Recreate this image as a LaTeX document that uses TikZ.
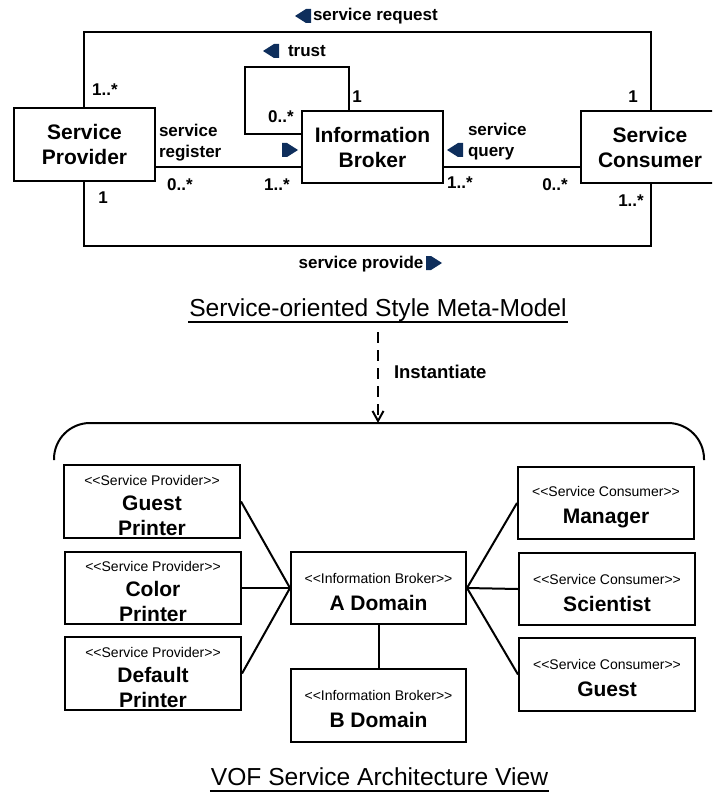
\documentclass[tikz,border=0pt]{standalone}
\usepackage{fontspec}
\setmainfont{Liberation Sans}
\usetikzlibrary{arrows.meta}
\definecolor{navy}{HTML}{0E2E5C}
\newcommand{\stereo}[1]{{\fontsize{14}{25}\mdseries\selectfont \rule{0pt}{18pt}<\kern0pt<#1>\kern0pt>}}
\tikzset{
  lmark/.pic={\fill[navy] (-8,0) -- (3,-7) -- (8,-7) -- (8,7) -- (3,7) -- cycle;},
  rmark/.pic={\fill[navy] (8,0) -- (-3,-7) -- (-8,-7) -- (-8,7) -- (-3,7) -- cycle;}
}
\begin{document}
\begin{tikzpicture}[x=1pt,y=-1pt,line width=2pt,
  box/.style={draw,line width=2pt,align=center,inner sep=0pt,
    font=\fontsize{21}{25}\selectfont\bfseries},
  lbl/.style={font=\fontsize{17}{21}\selectfont\bfseries,inner sep=0pt},
  ttl/.style={font=\fontsize{24.6}{28}\selectfont,inner sep=0pt}]
\useasboundingbox (0,0) rectangle (712,794);
\clip (0,0) rectangle (712,794);
% ---------- meta-model ----------
\node[box,minimum width=141pt,minimum height=73pt] (sp) at (84.5,144.5) {Service\\Provider};
\node[box,minimum width=141pt,minimum height=72pt] (ib) at (372.5,147) {Information\\Broker};
\node[box,minimum width=138pt,minimum height=72pt] (sc) at (650,147) {Service\\Consumer};

\draw (sp.east |- 0,167) -- (ib.west |- 0,167);
\draw (ib.east |- 0,167) -- (sc.west |- 0,167);
\draw (sp.north -| 84,0) -- (84,32) -- (651,32) -- (sc.north -| 651,0);
\draw (sp.south -| 84,0) -- (84,246) -- (651,246) -- (sc.south -| 651,0);
\draw (ib.north -| 349,0) -- (349,67) -- (245,67) -- (245,134) -- (ib.west |- 0,134);

\pic at (303,16) {lmark};
\pic at (271,51) {lmark};
\pic at (290,150) {rmark};
\pic at (455,150) {lmark};
\pic at (434,263) {rmark};

\node[lbl,anchor=west] (lreq) at (312,16) {service request};
\node[lbl,anchor=west] (ltrust) at (287,51) {trust};
\node[lbl,anchor=west,align=left] (lreg) at (158,142.5) {service\\register};
\node[lbl,anchor=west,align=left] (lqry) at (467,142) {service\\query};
\node[lbl] (lprov) at (361,264) {service provide};
\node[lbl] (m1) at (105,90) {1..*};
\node[lbl] (m2) at (357,97) {1};
\node[lbl] (m3) at (281,117) {0..*};
\node[lbl] (m4) at (180,185) {0..*};
\node[lbl] (m5) at (277,185) {1..*};
\node[lbl] (m6) at (103,198) {1};
\node[lbl] (m7) at (460,183) {1..*};
\node[lbl] (m8) at (555,185) {0..*};
\node[lbl] (m9) at (633,97) {1};
\node[lbl] (m10) at (631,201) {1..*};

% ---------- titles and instantiate ----------
\node[ttl,anchor=base] (t1) at (378,316) {Service-oriented Style Meta-Model};
\draw[line width=1.6pt] ([yshift=-6pt]t1.base west) -- ([yshift=-6pt]t1.base east);
\coordinate (brtop) at (378,423);
\draw[dash pattern=on 11pt off 7pt,-{Straight Barb[length=10pt,width=11pt]}] (t1.south |- 0,332) -- (brtop);
\node[lbl,font=\fontsize{18.5}{22}\selectfont\bfseries,anchor=west] (inst) at (393,372) {Instantiate};
\draw[rounded corners=36pt] (54,460) -- (54,423) -- (704,423) -- (704,460);

% ---------- architecture view ----------
\node[box,minimum width=176pt,minimum height=73pt] (gp) at (152,501.5) {\stereo{Service Provider}\\Guest\\Printer};
\node[box,minimum width=176pt,minimum height=72pt] (cp) at (153,588) {\stereo{Service Provider}\\Color\\Printer};
\node[box,minimum width=176pt,minimum height=73pt] (dp) at (153,673.5) {\stereo{Service Provider}\\Default\\Printer};
\node[box,minimum width=175pt,minimum height=72pt] (ad) at (378.5,588) {\stereo{Information Broker}\\[2pt]A Domain};
\node[box,minimum width=175pt,minimum height=73pt] (bd) at (378.5,705.5) {\stereo{Information Broker}\\[2pt]B Domain};
\node[box,minimum width=176pt,minimum height=72pt] (mg) at (606,503) {\stereo{Service Consumer}\\[2pt]Manager};
\node[box,minimum width=176pt,minimum height=72pt] (sci) at (607,589) {\stereo{Service Consumer}\\[2pt]Scientist};
\node[box,minimum width=176pt,minimum height=73pt] (gu) at (607,674.5) {\stereo{Service Consumer}\\[2pt]Guest};

\draw (gp.east) -- (ad.west);
\draw (cp.east) -- (ad.west);
\draw (dp.east) -- (ad.west);
\draw (mg.west) -- (ad.east);
\draw (sci.west) -- (ad.east);
\draw (gu.west) -- (ad.east);
\draw (ad.south) -- (bd.north);

\node[ttl,anchor=base] (t2) at (379.5,785) {VOF Service Architecture View};
\draw[line width=1.6pt] ([yshift=-6pt]t2.base west) -- ([yshift=-6pt]t2.base east);
\end{tikzpicture}
\end{document}
